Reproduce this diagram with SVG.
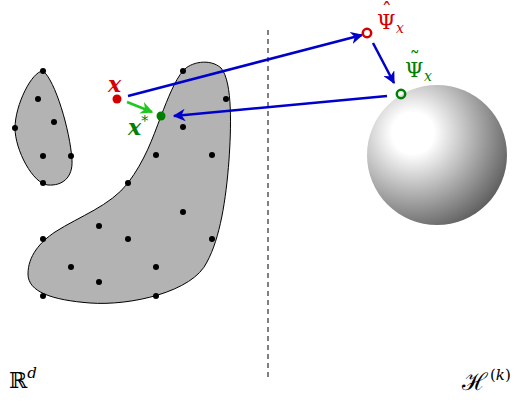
<svg xmlns="http://www.w3.org/2000/svg" width="522" height="407" viewBox="0 0 522 407">
<defs>
  <radialGradient id="sph" cx="413" cy="133" r="105" fx="413" fy="133" gradientUnits="userSpaceOnUse">
    <stop offset="0" stop-color="#ffffff"/>
    <stop offset="0.2" stop-color="#ffffff"/>
    <stop offset="1" stop-color="#5a5a5a"/>
  </radialGradient>
  <marker id="ab" viewBox="0 0 10 10" refX="9" refY="5" markerWidth="5" markerHeight="5" orient="auto" markerUnits="strokeWidth">
    <path d="M0,0 L10,5 L0,10 L3,5 Z" fill="#0000cc"/>
  </marker>
  <marker id="ag" viewBox="0 0 10 10" refX="9" refY="5" markerWidth="5" markerHeight="5" orient="auto" markerUnits="strokeWidth">
    <path d="M0,0 L10,5 L0,10 L3,5 Z" fill="#1ec81e"/>
  </marker>
</defs>
<style>
  .blob{fill:#b3b3b3;stroke:#000;stroke-width:1}
  .pt{fill:#000}
  .math{font-family:"DejaVu Serif","Liberation Serif",serif}
  .conn{fill:none;stroke-width:2.5}
</style>

<line x1="268" y1="30" x2="268" y2="380" stroke="#000" stroke-width="1" stroke-dasharray="5,4"/>

<g id="blob-small">
  <path class="blob" d="M43,71 C55,80 70,130 72,160 C73,178 62,186 48,185 C33,184 15,150 15,128 C15,105 32,71 43,71 Z"/>
  <circle class="pt" cx="43" cy="71" r="3"/>
  <circle class="pt" cx="38" cy="99" r="3"/>
  <circle class="pt" cx="54" cy="122" r="3"/>
  <circle class="pt" cx="15" cy="128" r="3"/>
  <circle class="pt" cx="43" cy="156" r="3"/>
  <circle class="pt" cx="71" cy="156" r="3"/>
  <circle class="pt" cx="43" cy="183" r="3"/>
</g>

<g id="blob-large">
  <path class="blob" d="M183,71 C190,62 210,58 221,68 C233,82 231,130 229,160 C226,200 220,238 207,262 C193,292 130,306 90,303 C52,300 28,292 28,274 C28,256 40,242 55,232 C80,216 110,206 128,183 C145,160 152,140 161,116 C168,98 175,80 183,71 Z"/>
  <circle class="pt" cx="183" cy="71" r="3"/>
  <circle class="pt" cx="226" cy="99" r="3"/>
  <circle class="pt" cx="183" cy="127" r="3"/>
  <circle class="pt" cx="156" cy="155" r="3"/>
  <circle class="pt" cx="212" cy="155" r="3"/>
  <circle class="pt" cx="128" cy="183" r="3"/>
  <circle class="pt" cx="183" cy="212" r="3"/>
  <circle class="pt" cx="99" cy="226" r="3"/>
  <circle class="pt" cx="43" cy="239" r="3"/>
  <circle class="pt" cx="128" cy="239" r="3"/>
  <circle class="pt" cx="212" cy="239" r="3"/>
  <circle class="pt" cx="71" cy="267" r="3"/>
  <circle class="pt" cx="156" cy="267" r="3"/>
  <circle class="pt" cx="99" cy="282" r="3"/>
  <circle class="pt" cx="43" cy="296" r="3"/>
  <circle class="pt" cx="156" cy="296" r="3"/>
</g>

<g id="sphere">
  <circle cx="437" cy="155" r="70" fill="url(#sph)"/>
</g>

<g id="connectors">
  <line class="conn" x1="128" y1="96" x2="362" y2="35" stroke="#0000cc" marker-end="url(#ab)"/>
  <line class="conn" x1="373" y1="43" x2="394" y2="83" stroke="#0000cc" marker-end="url(#ab)"/>
  <line class="conn" x1="387" y1="96" x2="174" y2="116" stroke="#0000cc" marker-end="url(#ab)"/>
  <line class="conn" x1="127" y1="102" x2="152" y2="112" stroke="#1ec81e" marker-end="url(#ag)"/>
</g>

<g id="x">
  <circle cx="117" cy="99" r="4.5" fill="#d40000"/>
  <text class="math" x="108" y="92" font-size="22" font-style="italic" font-weight="bold" fill="#d40000">x</text>
</g>

<g id="xstar">
  <circle cx="161" cy="116" r="4.5" fill="#008000"/>
  <text class="math" x="128" y="135" font-size="22" font-style="italic" font-weight="bold" fill="#008000">x<tspan font-size="14" font-style="normal" font-weight="normal" dy="-9">*</tspan></text>
</g>

<g id="psi-hat">
  <circle cx="367" cy="33" r="4.2" fill="none" stroke="#d40000" stroke-width="2.5"/>
  <text class="math" x="377" y="29" font-size="21" fill="#d40000">Ψ<tspan dx="-14" dy="-11">ˆ</tspan><tspan font-style="italic" font-size="14" dx="4" dy="15">x</tspan></text>
</g>

<g id="psi-tilde">
  <circle cx="401" cy="94" r="4.2" fill="none" stroke="#008000" stroke-width="2.5"/>
  <text class="math" x="405" y="77" font-size="21" fill="#008000">Ψ<tspan dx="-14" dy="-11">˜</tspan><tspan font-style="italic" font-size="14" dx="4" dy="15">x</tspan></text>
</g>

<g id="label-Rd">
  <text class="math" x="9" y="388" font-size="22" fill="#000">ℝ<tspan font-style="italic" font-size="15" dy="-10">d</tspan></text>
</g>

<g id="label-Hk">
  <text class="math" x="462" y="390" font-size="24" fill="#000">ℋ</text>
  <text class="math" x="490" y="380" font-size="15" fill="#000">(<tspan font-style="italic">k</tspan>)</text>
</g>
</svg>
